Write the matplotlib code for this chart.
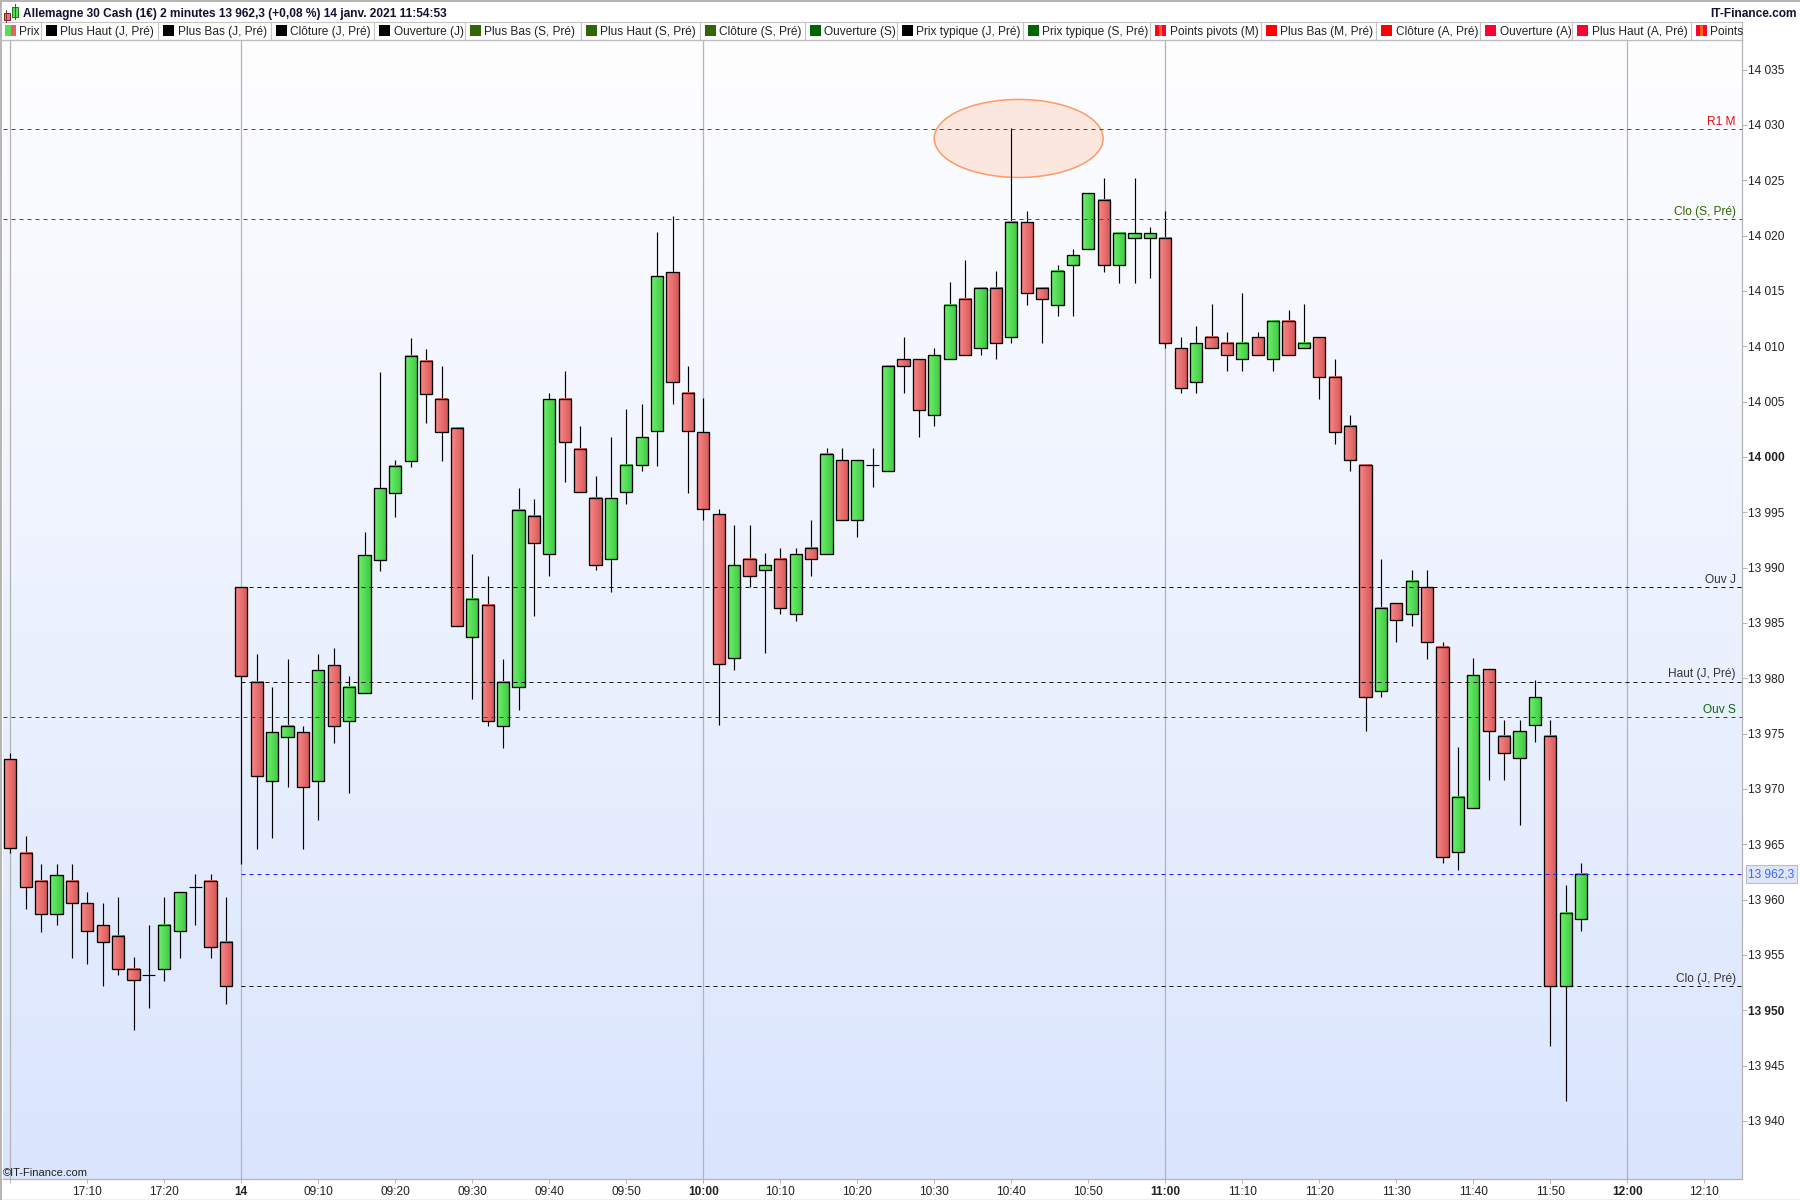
import numpy as np
import matplotlib
matplotlib.use("Agg")
import matplotlib.pyplot as plt
from matplotlib.colors import LinearSegmentedColormap
from matplotlib.patches import Ellipse, Rectangle

plt.rcParams["font.family"] = ["Liberation Sans", "DejaVu Sans"]

TITLE = "Allemagne 30 Cash (1€) 2 minutes 13 962,3 (+0,08 %) 14 janv. 2021 11:54:53"

opens = [13972.7, 13964.2, 13961.7, 13958.7, 13961.7, 13959.7, 13957.7, 13956.7, 13953.7, 13953.2,
         13953.7, 13957.2, 13961.1, 13961.7, 13956.2, 13988.2, 13979.7, 13970.7, 13974.7, 13975.1,
         13970.7, 13981.2, 13976.1, 13978.7, 13990.7, 13996.7, 13999.6, 14008.7, 14005.2, 14002.6,
         13983.7, 13986.6, 13975.7, 13979.2, 13994.7, 13991.2, 14005.2, 14000.7, 13996.3, 13990.8,
         13996.8, 13999.3, 14002.3, 14016.7, 14005.8, 14002.2, 13994.8, 13981.8, 13990.8, 13989.8,
         13990.8, 13985.8, 13991.8, 13991.2, 13999.7, 13994.3, 13999.3, 13998.7, 14008.8, 14008.8,
         14003.8, 14008.8, 14014.3, 14009.8, 14015.3, 14010.8, 14021.2, 14015.3, 14013.7, 14017.3,
         14018.8, 14023.2, 14017.3, 14019.8, 14019.8, 14019.8, 14009.8, 14006.8, 14010.8, 14010.3,
         14008.8, 14010.8, 14008.8, 14012.3, 14009.8, 14010.8, 14007.2, 14002.8, 13999.3, 13978.8,
         13986.8, 13985.8, 13988.2, 13982.8, 13964.3, 13968.3, 13980.8, 13974.8, 13972.8, 13975.8,
         13974.8, 13952.2, 13958.2]
closes = [13964.7, 13961.1, 13958.7, 13962.2, 13959.7, 13957.2, 13956.2, 13953.7, 13952.7, 13953.2,
          13957.7, 13960.7, 13961.1, 13955.7, 13952.2, 13980.2, 13971.2, 13975.1, 13975.7, 13970.2,
          13980.7, 13975.7, 13979.2, 13991.1, 13997.2, 13999.2, 14009.1, 14005.7, 14002.2, 13984.7,
          13987.2, 13976.1, 13979.7, 13995.2, 13992.2, 14005.2, 14001.3, 13996.8, 13990.2, 13996.3,
          13999.3, 14001.8, 14016.3, 14006.8, 14002.3, 13995.3, 13981.3, 13990.2, 13989.2, 13990.2,
          13986.3, 13991.2, 13990.8, 14000.3, 13994.3, 13999.7, 13999.3, 14008.2, 14008.2, 14004.2,
          14009.2, 14013.7, 14009.2, 14015.3, 14010.3, 14021.2, 14014.8, 14014.3, 14016.8, 14018.2,
          14023.8, 14017.3, 14020.2, 14020.2, 14020.2, 14010.3, 14006.2, 14010.3, 14009.8, 14009.2,
          14010.3, 14009.2, 14012.3, 14009.2, 14010.3, 14007.2, 14002.2, 13999.7, 13978.3, 13986.3,
          13985.3, 13988.8, 13983.3, 13963.8, 13969.3, 13980.3, 13975.2, 13973.2, 13975.2, 13978.3,
          13952.2, 13958.8, 13962.3]
highs = [13973.2, 13965.7, 13963.2, 13963.2, 13963.2, 13960.7, 13959.7, 13960.2, 13954.8, 13957.7,
         13960.2, 13960.7, 13962.3, 13962.3, 13960.2, 13988.2, 13982.2, 13979.2, 13981.7, 13975.7,
         13982.2, 13982.7, 13980.2, 13993.2, 14007.7, 13999.7, 14010.7, 14009.7, 14008.2, 14002.6,
         13991.2, 13989.2, 13981.7, 13997.2, 13996.2, 14005.8, 14007.8, 14002.8, 13998.3, 14001.8,
         14004.3, 14004.8, 14020.3, 14021.8, 14008.2, 14005.3, 13995.3, 13993.8, 13993.8, 13991.3,
         13991.8, 13991.8, 13994.3, 14000.8, 14000.8, 13999.7, 14000.8, 14008.2, 14010.8, 14008.8,
         14009.8, 14015.8, 14017.8, 14015.3, 14016.8, 14029.7, 14022.2, 14015.3, 14017.3, 14018.8,
         14023.8, 14025.2, 14020.2, 14025.2, 14020.8, 14022.2, 14010.8, 14011.8, 14013.8, 14011.3,
         14014.8, 14011.3, 14012.3, 14013.3, 14013.8, 14010.8, 14008.8, 14003.8, 13999.3, 13990.8,
         13986.8, 13989.8, 13989.8, 13983.3, 13973.8, 13981.8, 13980.8, 13976.2, 13976.2, 13979.8,
         13976.2, 13961.3, 13963.3]
lows = [13964.2, 13959.1, 13957.1, 13957.7, 13954.7, 13954.2, 13952.2, 13953.2, 13948.2, 13950.2,
        13952.6, 13954.7, 13957.7, 13954.7, 13950.6, 13963.2, 13964.6, 13965.6, 13970.2, 13964.6,
        13967.2, 13974.1, 13969.6, 13978.7, 13989.7, 13994.6, 13999.1, 14003.1, 13999.6, 13984.7,
        13978.1, 13975.7, 13973.7, 13977.1, 13985.6, 13989.2, 13997.7, 13996.8, 13989.8, 13987.8,
        13995.7, 13998.7, 13999.2, 14004.8, 13996.7, 13994.3, 13975.8, 13980.7, 13988.2, 13982.3,
        13985.8, 13985.2, 13989.2, 13991.2, 13994.3, 13992.8, 13997.3, 13998.7, 14005.8, 14001.8,
        14002.8, 14008.8, 14009.2, 14009.2, 14008.8, 14010.3, 14013.7, 14010.3, 14012.7, 14012.7,
        14018.8, 14016.7, 14015.7, 14015.7, 14016.2, 14009.8, 14005.8, 14005.8, 14009.8, 14007.8,
        14007.8, 14009.2, 14007.8, 14009.2, 14009.8, 14005.2, 14001.2, 13998.7, 13975.2, 13978.3,
        13983.3, 13984.7, 13981.7, 13963.3, 13962.7, 13968.3, 13970.8, 13970.8, 13966.7, 13974.2,
        13946.8, 13941.8, 13957.2]

session_lines = [0, 15, 45, 75, 105]
tick_pos = [0, 5, 10, 15, 20, 25, 30, 35, 40, 45, 50, 55, 60, 65, 70, 75, 80, 85, 90, 95, 100, 105, 110]
tick_labels = ["", "17:10", "17:20", "14", "09:10", "09:20", "09:30", "09:40", "09:50", "10:00", "10:10",
               "10:20", "10:30", "10:40", "10:50", "11:00", "11:10", "11:20", "11:30", "11:40", "11:50",
               "12:00", "12:10"]
bold_ticks = ["14", "10:00", "11:00", "12:00"]
price_ticks = list(range(13940, 14040, 5))
bold_prices = [14000, 13950]

level_names = ["R1 M", "Clo (S, Pré)", "Ouv J", "Haut (J, Pré)", "Ouv S", "Clo (J, Pré)"]
level_values = [14029.65, 14021.45, 13988.2, 13979.7, 13976.5, 13952.2]
level_colors = ["#E01010", "#336600", "#000000", "#000000", "#116611", "#000000"]
level_starts = [-0.47, -0.47, 15, 15, -0.47, 15]
last_price = 13962.3

legend_names = ["Prix", "Plus Haut (J, Pré)", "Plus Bas (J, Pré)", "Clôture (J, Pré)", "Ouverture (J)",
                "Plus Bas (S, Pré)", "Plus Haut (S, Pré)", "Clôture (S, Pré)", "Ouverture (S)",
                "Prix typique (J, Pré)", "Prix typique (S, Pré)", "Points pivots (M)", "Plus Bas (M, Pré)",
                "Clôture (A, Pré)", "Ouverture (A)", "Plus Haut (A, Pré)", "Points"]
legend_colors = ["#55DD55", "#000000", "#000000", "#000000", "#000000", "#336600", "#336600", "#336600",
                 "#006600", "#000000", "#006600", "#FF0033", "#FF0000", "#FF0000", "#FF0033", "#FF0033",
                 "#FF0033"]
legend_edges = [0, 41, 158, 271, 374, 465, 580.6, 699.6, 805, 897, 1022.6, 1150, 1260.7, 1376, 1480, 1572,
                1690.6, 1741.5]

TEXT = "#222222"
GRAY = "#B4B4B4"
FS = 8.6
DASH = (0, (4, 4))

red_cm = LinearSegmentedColormap.from_list("r", ["#FA8888", "#D65858"])
green_cm = LinearSegmentedColormap.from_list("g", ["#6AF06A", "#42C842"])
bg_cm = LinearSegmentedColormap.from_list("bg", ["#FEFEFF", "#DAE5FD"])
grad = np.linspace(0, 1, 16).reshape(1, -1)

fig = plt.figure(figsize=(18, 12), dpi=100, facecolor="white")
ax = fig.add_axes([3 / 1800, 1 - 1179 / 1200, (1741.5 - 3) / 1800, (1179 - 40) / 1200])

xlim = ((3 - 10.3) / 15.4, (1741.5 - 10.3) / 15.4)
ylim = (14035 - (1179 - 69.5) / 11.067, 14035 + 29.5 / 11.067)

# background gradient
ax.imshow(np.linspace(0, 1, 256).reshape(-1, 1), cmap=bg_cm, aspect="auto", extent=(*xlim, *ylim),
          origin="upper", zorder=0)

for x in session_lines:
    ax.axvline(x, color=GRAY, lw=0.9, zorder=1)

ax.add_patch(Ellipse((65.48, 14028.77), 10.97, 7.05, facecolor="#FCE7DE", edgecolor="#FF9A66", lw=1.1,
                     zorder=2))

ax.vlines(range(len(highs)), lows, highs, color="black", lw=0.85, zorder=3)

w = 0.39
for i, (o, c) in enumerate(zip(opens, closes)):
    if o == c:
        ax.hlines(o, i - 0.42, i + 0.42, color="black", lw=0.85, zorder=4)
        continue
    cm = green_cm if c > o else red_cm
    ax.imshow(grad, cmap=cm, aspect="auto", extent=(i - w, i + w, min(o, c), max(o, c)),
              interpolation="bilinear", zorder=4)
    ax.add_patch(Rectangle((i - w, min(o, c)), 2 * w, abs(o - c), fill=False, edgecolor="black", lw=0.95,
                           zorder=5))

# levels and their labels
for name, val, col, start in zip(level_names, level_values, level_colors, level_starts):
    ax.hlines(val, start, xlim[1], color=col, lw=0.72, linestyles=DASH, zorder=6)
    ax.annotate(name, xy=(1, val), xycoords=("axes fraction", "data"), xytext=(-4, 0.8),
                textcoords="offset points", ha="right", va="bottom", fontsize=FS,
                color=col if col != "#000000" else "#333333", zorder=7)
ax.hlines(last_price, 15, xlim[1], color="#2222EE", lw=0.72, linestyles=DASH, zorder=6)

ax.set_xlim(xlim)
ax.set_ylim(ylim)

ax.yaxis.tick_right()
ax.set_yticks(price_ticks)
ax.set_yticklabels([f"{p // 1000} {p % 1000:03d}" for p in price_ticks], fontsize=FS, color=TEXT)
for lab, p in zip(ax.get_yticklabels(), price_ticks):
    if p in bold_prices:
        lab.set_fontweight("bold")
ax.set_xticks(tick_pos)
ax.set_xticklabels(tick_labels, fontsize=FS, color=TEXT)
for lab in ax.get_xticklabels():
    if lab.get_text() in bold_ticks:
        lab.set_fontweight("bold")
ax.tick_params(axis="y", length=3.3, width=0.7, color=GRAY, pad=1.2)
ax.tick_params(axis="x", length=2.6, width=0.7, color=GRAY, pad=2.6)
for side in ["top", "left"]:
    ax.spines[side].set_visible(False)
for side in ["right", "bottom"]:
    ax.spines[side].set_color(GRAY)
    ax.spines[side].set_linewidth(0.9)

ax.annotate("13 962,3", xy=(1, last_price), xycoords=("axes fraction", "data"), xytext=(5, 0),
            textcoords="offset points", ha="left", va="center", fontsize=FS, color="#4466EE",
            bbox=dict(boxstyle="square,pad=0.22", facecolor="#DDE5F8", edgecolor="#B8BECC", lw=0.8),
            annotation_clip=False)

fig.text(3 / 1800, 1 - 1173 / 1200, "©IT-Finance.com", fontsize=8, color=TEXT, ha="left", va="center",
         zorder=8)

# window chrome in pixel coordinates
top = fig.add_axes([0, 0, 1, 1], facecolor="none", zorder=5)
top.set_xlim(0, 1800)
top.set_ylim(1200, 0)
top.axis("off")

top.plot([0, 1800], [0.5, 0.5], color=GRAY, lw=1.4)
top.plot([0, 1800], [1199.5, 1199.5], color=GRAY, lw=1)
top.plot([1, 1], [0, 1200], color=GRAY, lw=1.4)
top.plot([0, 1741.5], [21.5, 21.5], color="#C4C4C4", lw=0.8)
top.plot([0, 1741.5], [39.5, 39.5], color="#BDBDBD", lw=1)
top.plot([1741.5, 1741.5], [21.5, 40], color=GRAY, lw=0.9)

# candle icon next to the title
top.plot([6, 6], [10, 22], color="#883333", lw=0.7)
top.add_patch(Rectangle((3.5, 13), 6, 7, facecolor="#EE7070", edgecolor="#772222", lw=0.7))
top.plot([14.5, 14.5], [4, 19], color="#226622", lw=0.7)
top.add_patch(Rectangle((11.5, 7), 6, 10, facecolor="#55E055", edgecolor="#227722", lw=0.7))

top.text(23, 14, TITLE, fontsize=8.55, fontweight="bold", color="#111133", ha="left", va="center")
top.text(1797, 14, "IT-Finance.com", fontsize=8.55, fontweight="bold", color="#111133", ha="right", va="center")

for i, (name, col) in enumerate(zip(legend_names, legend_colors)):
    left = legend_edges[i]
    if i > 0:
        top.plot([left, left], [22, 39], color="#C4C4C4", lw=0.8)
    if name == "Prix":
        top.add_patch(Rectangle((left + 5, 25), 5.5, 11, facecolor="#55DD55", lw=0))
        top.add_patch(Rectangle((left + 10.5, 25), 5.5, 11, facecolor="#E86060", lw=0))
    else:
        top.add_patch(Rectangle((left + 5, 25), 11, 11, facecolor=col, lw=0))
        if name.startswith("Points"):
            top.add_patch(Rectangle((left + 9, 25), 3, 11, facecolor="#FF6600", lw=0))
    top.text(left + 19.5, 32.3, name, fontsize=FS, color=TEXT, ha="left", va="center")

fig.savefig("out.png", dpi=100, facecolor="white")
